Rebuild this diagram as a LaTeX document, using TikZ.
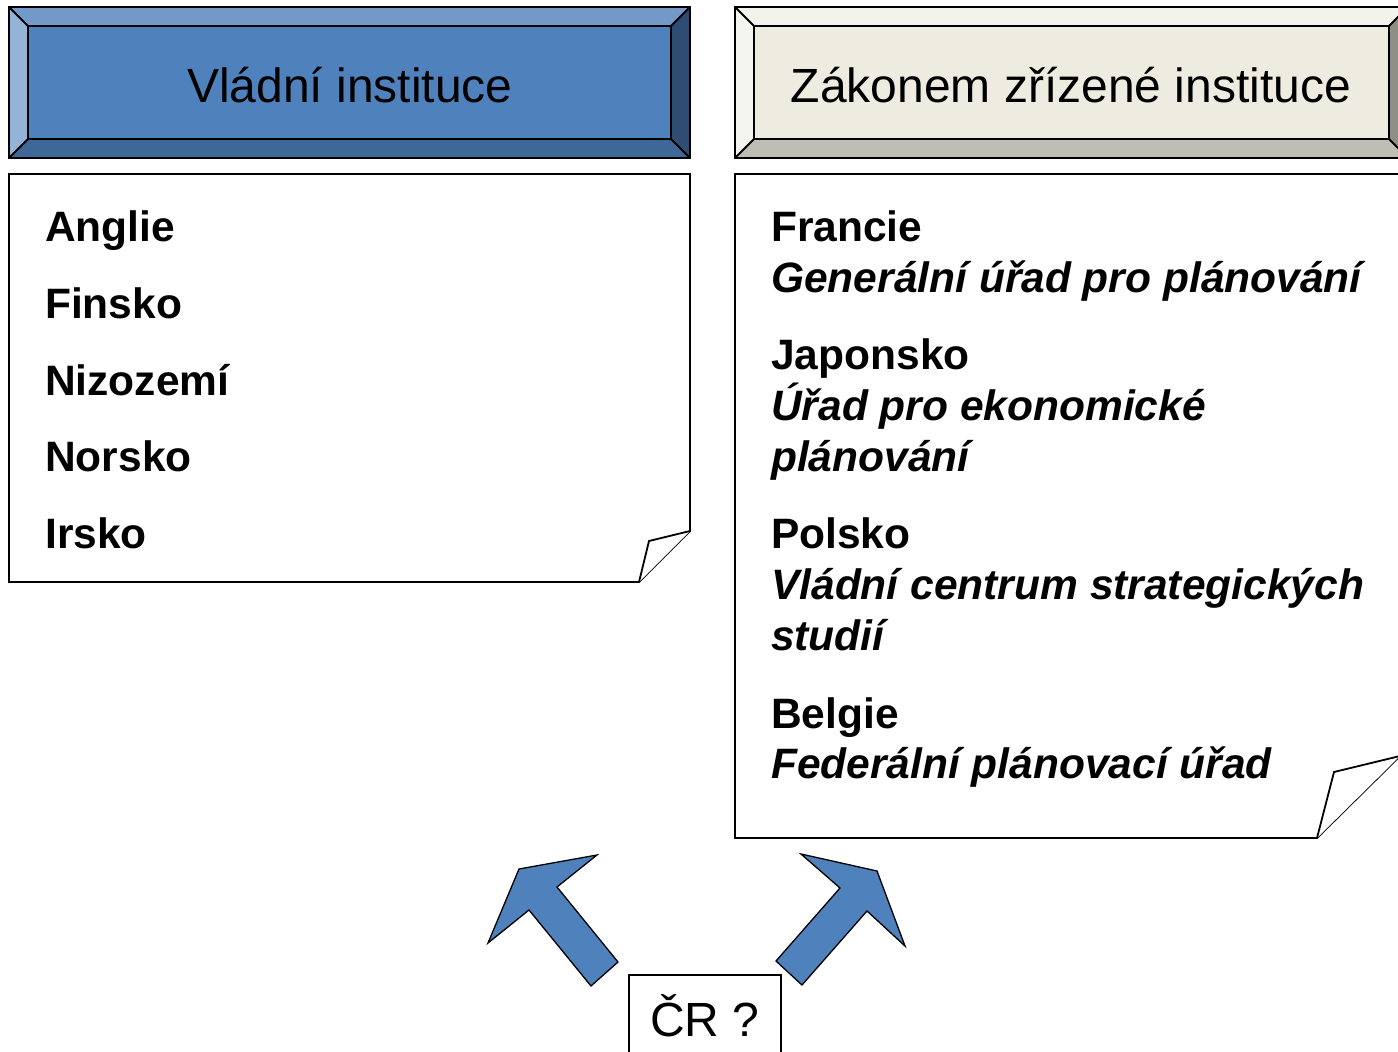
\documentclass[tikz,border=0pt]{standalone}
\usepackage{fontspec}
\setmainfont{Liberation Sans}
\usepackage{xcolor}
\usepackage{tikz}
\definecolor{modra}{HTML}{4F81BD}
\definecolor{modraH}{HTML}{7399C9}
\definecolor{modraL}{HTML}{95B3D7}
\definecolor{modraD}{HTML}{3F6797}
\definecolor{modraP}{HTML}{2F4D72}
\definecolor{bezova}{HTML}{EEECE1}
\definecolor{bezovaH}{HTML}{F3F2EB}
\definecolor{bezovaL}{HTML}{F5F5EF}
\definecolor{bezovaD}{HTML}{BFBEB4}
\definecolor{bezovaP}{HTML}{8E8D86}
\tikzset{
  obrys/.style={line width=1.8pt,line join=miter},
  nadpis/.style={anchor=base,inner sep=0pt,font=\fontsize{48}{56}\selectfont},
  zeme/.style={anchor=base west,inner sep=0pt,font=\fontsize{42.5}{51}\selectfont\bfseries},
  urad/.style={anchor=base west,inner sep=0pt,font=\fontsize{42.5}{51}\selectfont\bfseries\itshape},
  sipka/.style={fill=modra,draw=black,line width=1.3pt,line join=miter}
}

\begin{document}
\begin{tikzpicture}[x=1pt,y=-1pt]
\useasboundingbox (0,0) rectangle (1398,1052);
\clip (0,0) rectangle (1398,1052);
% hlavicka vlevo
\fill[modra] (28,26) rectangle (671,139);
\fill[modraH] (9,7) -- (690,7) -- (671,26) -- (28,26) -- cycle;
\fill[modraL] (9,7) -- (28,26) -- (28,139) -- (9,158) -- cycle;
\fill[modraD] (9,158) -- (28,139) -- (671,139) -- (690,158) -- cycle;
\fill[modraP] (690,7) -- (690,158) -- (671,139) -- (671,26) -- cycle;
\draw[obrys] (9,7) rectangle (690,158);
\draw[obrys] (28,26) rectangle (671,139);
\draw[obrys] (9,7) -- (28,26) (690,7) -- (671,26) (9,158) -- (28,139) (690,158) -- (671,139);
\node[nadpis] (vladni) at (350,102) {Vládní instituce};
% hlavicka vpravo
\fill[bezova] (754,26) rectangle (1389,139);
\fill[bezovaH] (735,7) -- (1408,7) -- (1389,26) -- (754,26) -- cycle;
\fill[bezovaL] (735,7) -- (754,26) -- (754,139) -- (735,158) -- cycle;
\fill[bezovaD] (735,158) -- (754,139) -- (1389,139) -- (1408,158) -- cycle;
\fill[bezovaP] (1408,7) -- (1408,158) -- (1389,139) -- (1389,26) -- cycle;
\draw[obrys] (735,7) rectangle (1408,158);
\draw[obrys] (754,26) rectangle (1389,139);
\draw[obrys] (735,7) -- (754,26) (1408,7) -- (1389,26) (735,158) -- (754,139) (1408,158) -- (1389,139);
\node[nadpis] (zakonem) at (1071,102) {Zákonem zřízené instituce};
% list vlevo
\draw[obrys,fill=white] (9,174) -- (690,174) -- (690,531) -- (639,582) -- (9,582) -- cycle;
\draw[obrys,fill=white] (690,531) -- (649,541) -- (639,582);
\node[zeme] (anglie) at (45,241) {Anglie};
\node[zeme] (finsko) at (45,318) {Finsko};
\node[zeme] (nizozemi) at (45,395) {Nizozemí};
\node[zeme] (norsko) at (45,471) {Norsko};
\node[zeme] (irsko) at (45,548) {Irsko};
% list vpravo
\draw[obrys,fill=white] (735,174) -- (1400,174) -- (1400,756) -- (1317,838) -- (735,838) -- cycle;
\draw[obrys,fill=white] (1400,756) -- (1334,772) -- (1317,838);
\node[zeme] (francie) at (771,241) {Francie};
\node[urad] (francieU) at (771,292) {Generální úřad pro plánování};
\node[zeme] (japonsko) at (771,369) {Japonsko};
\node[urad] (japonskoU) at (771,420) {Úřad pro ekonomické};
\node[urad] (japonskoU2) at (771,471) {plánování};
\node[zeme] (polsko) at (771,548) {Polsko};
\node[urad] (polskoU) at (771,599) {Vládní centrum strategických};
\node[urad] (polskoU2) at (771,650) {studií};
\node[zeme] (belgie) at (771,728) {Belgie};
\node[urad] (belgieU) at (771,778) {Federální plánovací úřad};
% sipky
\draw[sipka] (519,869) -- (597,855) -- (557,887) -- (618,962) -- (591,986) -- (529,910) -- (488,943) -- cycle;
\draw[sipka] (801,854) -- (877,871) -- (905,946) -- (867,911) -- (802,985) -- (776,961) -- (840,888) -- cycle;
% CR
\draw[obrys] (629,975) rectangle (781,1070);
\node[nadpis] (cr) at (705,1036) {ČR ?};
\end{tikzpicture}
\end{document}
